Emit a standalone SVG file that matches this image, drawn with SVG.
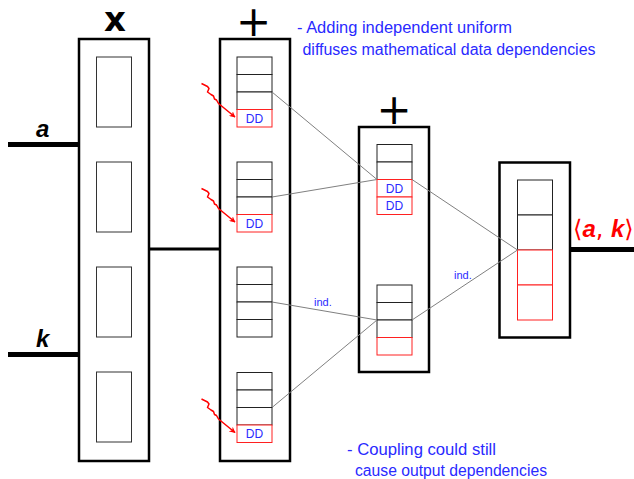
<svg xmlns="http://www.w3.org/2000/svg" width="634" height="479" viewBox="0 0 634 479">
  <defs>
    <marker id="arrowRed" viewBox="0 0 10 10" refX="9" refY="5" markerWidth="6" markerHeight="6" orient="auto" markerUnits="userSpaceOnUse">
      <path d="M0,0 L10,5 L0,10 L3,5 Z" fill="#ff0000"/>
    </marker>
    <style>
      .outer { fill: #ffffff; stroke: #000000; stroke-width: 2.5; }
      .inner { fill: #ffffff; stroke: #333333; stroke-width: 1; }
      .cell { fill: #ffffff; stroke: #222222; stroke-width: 1; }
      .red { fill: #ffffff; stroke: #ff2020; stroke-width: 1; }
      .wire { stroke: #000000; fill: none; }
      .link { stroke: #808080; stroke-width: 1; fill: none; }
      .wave { stroke: #ff0000; stroke-width: 1.5; fill: none; stroke-linejoin: round; marker-end: url(#arrowRed); }
      .op { font-family: "DejaVu Sans", "Liberation Sans", sans-serif; fill: #000000; text-anchor: middle; }
      .var { font-family: "Liberation Sans", Arial, sans-serif; font-weight: bold; font-style: italic; font-size: 24px; fill: #000000; }
      .dd { font-family: "Liberation Sans", Arial, sans-serif; font-size: 12px; fill: #2a2aff; text-anchor: middle; }
      .note { font-family: "Liberation Sans", Arial, sans-serif; font-size: 16px; fill: #2a2aff; }
      .ind { font-family: "Liberation Sans", Arial, sans-serif; font-size: 11px; fill: #2a2aff; }
    </style>
  </defs>

  <!-- input / output wires -->
  <g id="wires">
    <line class="wire" x1="8" y1="144.5" x2="79" y2="144.5" stroke-width="5"/>
    <line class="wire" x1="8" y1="354.5" x2="79" y2="354.5" stroke-width="5"/>
    <line class="wire" x1="149" y1="249" x2="220" y2="249" stroke-width="3"/>
    <line class="wire" x1="570" y1="249.5" x2="634" y2="249.5" stroke-width="5"/>
  </g>

  <text class="var" x="36" y="137">a</text>
  <text class="var" x="36" y="347">k</text>

  <!-- multiplication block -->
  <g id="mul">
    <rect class="outer" x="79" y="39" width="70" height="422"/>
    <text class="op" x="115" y="31" font-size="34" font-weight="bold">x</text>
    <rect class="inner" x="96.5" y="57" width="35" height="70"/>
    <rect class="inner" x="96.5" y="162" width="35" height="70"/>
    <rect class="inner" x="96.5" y="267" width="35" height="70"/>
    <rect class="inner" x="96.5" y="372" width="35" height="70"/>
  </g>

  <!-- first addition block -->
  <g id="add1">
    <rect class="outer" x="220" y="39" width="70" height="422"/>
    <text class="op" x="253.5" y="36" font-size="42">+</text>
    <!-- stack 1 -->
    <rect class="cell" x="237" y="57" width="35" height="17.5"/>
    <rect class="cell" x="237" y="74.5" width="35" height="17.5"/>
    <rect class="cell" x="237" y="92" width="35" height="17.5"/>
    <rect class="red" x="237" y="109.5" width="35" height="17.5"/>
    <text class="dd" x="254.5" y="122.5">DD</text>
    <!-- stack 2 -->
    <rect class="cell" x="237" y="162" width="35" height="17.5"/>
    <rect class="cell" x="237" y="179.5" width="35" height="17.5"/>
    <rect class="cell" x="237" y="197" width="35" height="17.5"/>
    <rect class="red" x="237" y="214.5" width="35" height="17.5"/>
    <text class="dd" x="254.5" y="227.5">DD</text>
    <!-- stack 3 -->
    <rect class="cell" x="237" y="267" width="35" height="17.5"/>
    <rect class="cell" x="237" y="284.5" width="35" height="17.5"/>
    <rect class="cell" x="237" y="302" width="35" height="17.5"/>
    <rect class="cell" x="237" y="319.5" width="35" height="17.5"/>
    <!-- stack 4 -->
    <rect class="cell" x="237" y="372.5" width="35" height="17.5"/>
    <rect class="cell" x="237" y="390" width="35" height="17.5"/>
    <rect class="cell" x="237" y="407.5" width="35" height="17.5"/>
    <rect class="red" x="237" y="425" width="35" height="17.5"/>
    <text class="dd" x="254.5" y="438">DD</text>
  </g>

  <!-- second addition block -->
  <g id="add2">
    <rect class="outer" x="359" y="127" width="70" height="245"/>
    <text class="op" x="394" y="124" font-size="42">+</text>
    <rect class="cell" x="377" y="144.5" width="35" height="17.5"/>
    <rect class="cell" x="377" y="162" width="35" height="17.5"/>
    <rect class="red" x="377" y="179.5" width="35" height="17.5"/>
    <rect class="red" x="377" y="197" width="35" height="17.5"/>
    <text class="dd" x="394.5" y="192.5">DD</text>
    <text class="dd" x="394.5" y="210">DD</text>
    <rect class="cell" x="377" y="285" width="35" height="17.5"/>
    <rect class="cell" x="377" y="302.5" width="35" height="17.5"/>
    <rect class="cell" x="377" y="320" width="35" height="17.5"/>
    <rect class="red" x="377" y="337.5" width="35" height="17.5"/>
  </g>

  <!-- output block -->
  <g id="out">
    <rect class="outer" x="499.5" y="162.5" width="70.5" height="175"/>
    <rect class="cell" x="517.5" y="180" width="35" height="35"/>
    <rect class="cell" x="517.5" y="215" width="35" height="35"/>
    <rect class="red" x="517.5" y="250" width="35" height="35"/>
    <rect class="red" x="517.5" y="285" width="35" height="35"/>
    <text x="573" y="237" font-family="'DejaVu Sans', 'Liberation Sans', sans-serif" font-size="24" fill="#ff0000">⟨<tspan font-family="'Liberation Sans', Arial, sans-serif" font-weight="bold" font-style="italic">a</tspan>, <tspan font-family="'Liberation Sans', Arial, sans-serif" font-weight="bold" font-style="italic">k</tspan>⟩</text>
  </g>

  <!-- gray links between stacks -->
  <g id="links">
    <line class="link" x1="272" y1="92" x2="377" y2="179.5"/>
    <line class="link" x1="272" y1="197" x2="377" y2="179.5"/>
    <line class="link" x1="272" y1="302" x2="377" y2="320"/>
    <line class="link" x1="272" y1="407.5" x2="377" y2="320"/>
    <line class="link" x1="412" y1="179.5" x2="517.5" y2="250"/>
    <line class="link" x1="412" y1="320" x2="517.5" y2="250"/>
    <text class="ind" x="314" y="306">ind.</text>
    <text class="ind" x="454" y="279">ind.</text>
  </g>

  <!-- red noise arrows into the DD cells -->
  <g id="noise">
    <path class="wave" d="M201.5,83.5 L207.5,86.5 L209,88.5 L207.5,92 L211,94.5 L213.5,96 L214.5,99 L216.5,100 L218.5,103.5 L235,117"/>
    <path class="wave" d="M201.5,188.5 L207.5,191.5 L209,193.5 L207.5,197 L211,199.5 L213.5,201 L214.5,204 L216.5,205 L218.5,208.5 L235,222"/>
    <path class="wave" d="M201.5,399 L207.5,402 L209,404 L207.5,407.5 L211,410 L213.5,411.5 L214.5,414.5 L216.5,415.5 L218.5,419 L235,432.5"/>
  </g>

  <!-- notes -->
  <g id="notes">
    <text class="note" x="297" y="33" textLength="215" lengthAdjust="spacingAndGlyphs">- Adding independent uniform</text>
    <text class="note" x="302.5" y="55" textLength="293" lengthAdjust="spacingAndGlyphs">diffuses mathematical data dependencies</text>
    <text class="note" x="347" y="455" textLength="149" lengthAdjust="spacingAndGlyphs">- Coupling could still</text>
    <text class="note" x="355" y="476" textLength="192" lengthAdjust="spacingAndGlyphs">cause output dependencies</text>
  </g>
</svg>
